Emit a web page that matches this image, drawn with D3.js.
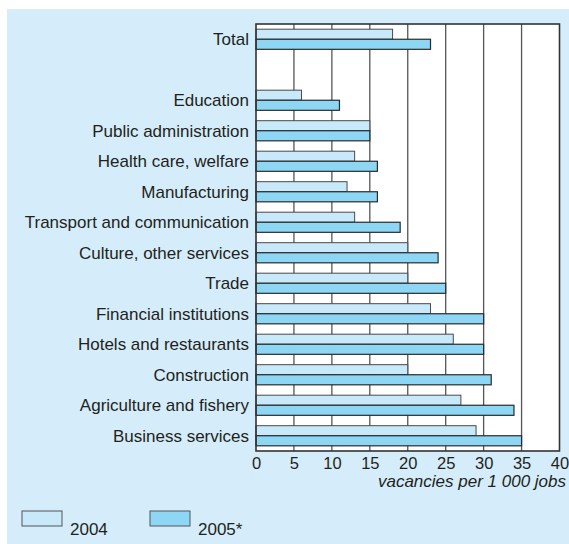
<!DOCTYPE html>
<html>
<head>
<meta charset="utf-8">
<script src="https://cdn.jsdelivr.net/npm/d3@7"></script>
<style>
  html, body { margin: 0; padding: 0; background: #ffffff; }
  svg { display: block; }
  text { font-family: "Liberation Sans", Arial, Helvetica, sans-serif; fill: #231f20; }
</style>
</head>
<body>
<svg id="chart" width="569" height="544"></svg>
<script>
// Job vacancies by industry, per 1 000 jobs
const categories = [
  "Total", "",
  "Education", "Public administration", "Health care, welfare", "Manufacturing",
  "Transport and communication", "Culture, other services", "Trade",
  "Financial institutions", "Hotels and restaurants", "Construction",
  "Agriculture and fishery", "Business services"
];
const values2004 = [18, null, 6, 15, 13, 12, 13, 20, 20, 23, 26, 20, 27, 29];
const values2005 = [23, null, 11, 15, 16, 16, 19, 24, 25, 30, 30, 31, 34, 35];
const seriesNames = ["2004", "2005*"];
const xTicks = [0, 5, 10, 15, 20, 25, 30, 35, 40];
const axisTitle = "vacancies per 1 000 jobs";

const colors = ["#c8e9f9", "#8dd7f5"];
const svg = d3.select("#chart");

// panel background
svg.append("rect").attr("x", 7).attr("y", 9).attr("width", 562).attr("height", 535)
  .attr("fill", "#d5edfa");

const plotLeft = 256, plotRight = 559.5, plotTop = 24, plotBottom = 451;

const x = d3.scaleLinear().domain([0, 40]).range([plotLeft, plotRight]);
const y = d3.scaleBand().domain(d3.range(categories.length)).range([plotTop, plotBottom])
  .paddingInner(0.34).paddingOuter(0.17);

// plot area
svg.append("rect").attr("x", plotLeft).attr("y", plotTop)
  .attr("width", plotRight - plotLeft).attr("height", plotBottom - plotTop)
  .attr("fill", "#ffffff");

// vertical grid lines
svg.append("g").selectAll("line").data(xTicks.slice(1, -1)).join("line")
  .attr("x1", d => x(d)).attr("x2", d => x(d))
  .attr("y1", plotTop).attr("y2", plotBottom)
  .attr("stroke", "#555").attr("stroke-width", 1.3);

// bars
const bh = y.bandwidth() / 2;
const rows = categories.map((c, i) => ({ i, a: values2004[i], b: values2005[i] })).filter(d => d.a != null);
const g = svg.append("g");
g.selectAll("rect.a").data(rows).join("rect").attr("class", "a")
  .attr("x", x(0)).attr("y", d => y(d.i))
  .attr("width", d => x(d.a) - x(0)).attr("height", bh)
  .attr("fill", colors[0]).attr("stroke", "#4a4a4a").attr("stroke-width", 1);
g.selectAll("rect.b").data(rows).join("rect").attr("class", "b")
  .attr("x", x(0)).attr("y", d => y(d.i) + bh)
  .attr("width", d => x(d.b) - x(0)).attr("height", bh)
  .attr("fill", colors[1]).attr("stroke", "#2a2a2a").attr("stroke-width", 1.2);

// frame
svg.append("rect").attr("x", plotLeft).attr("y", plotTop)
  .attr("width", plotRight - plotLeft).attr("height", plotBottom - plotTop)
  .attr("fill", "none").attr("stroke", "#333").attr("stroke-width", 1.6);

// category labels
svg.append("g").selectAll("text").data(categories.map((c, i) => ({ c, i })).filter(d => d.c)).join("text")
  .attr("x", 249).attr("y", d => y(d.i) + y.bandwidth() / 2)
  .attr("dy", "0.35em").attr("text-anchor", "end")
  .style("font-size", "17px").text(d => d.c);

// x axis
const xAxis = svg.append("g").attr("transform", `translate(0,${plotBottom})`)
  .call(d3.axisBottom(x).tickValues(xTicks).tickSize(0).tickPadding(6));
xAxis.select(".domain").remove();
xAxis.selectAll("text").style("font-size", "16.5px")
  .style("font-family", '"Liberation Sans", Arial, sans-serif').attr("fill", "#231f20");

svg.append("text").attr("x", 566).attr("y", 487).attr("text-anchor", "end")
  .style("font-size", "17px").style("font-style", "italic").text(axisTitle);

// legend
const legend = svg.append("g");
const lx = [22, 150];
seriesNames.forEach((s, k) => {
  legend.append("rect").attr("x", lx[k]).attr("y", 511).attr("width", 40).attr("height", 15)
    .attr("fill", colors[k]).attr("stroke", "#555").attr("stroke-width", 1);
  legend.append("text").attr("x", lx[k] + 48).attr("y", 535)
    .style("font-size", "17px").text(s);
});
</script>
</body>
</html>
